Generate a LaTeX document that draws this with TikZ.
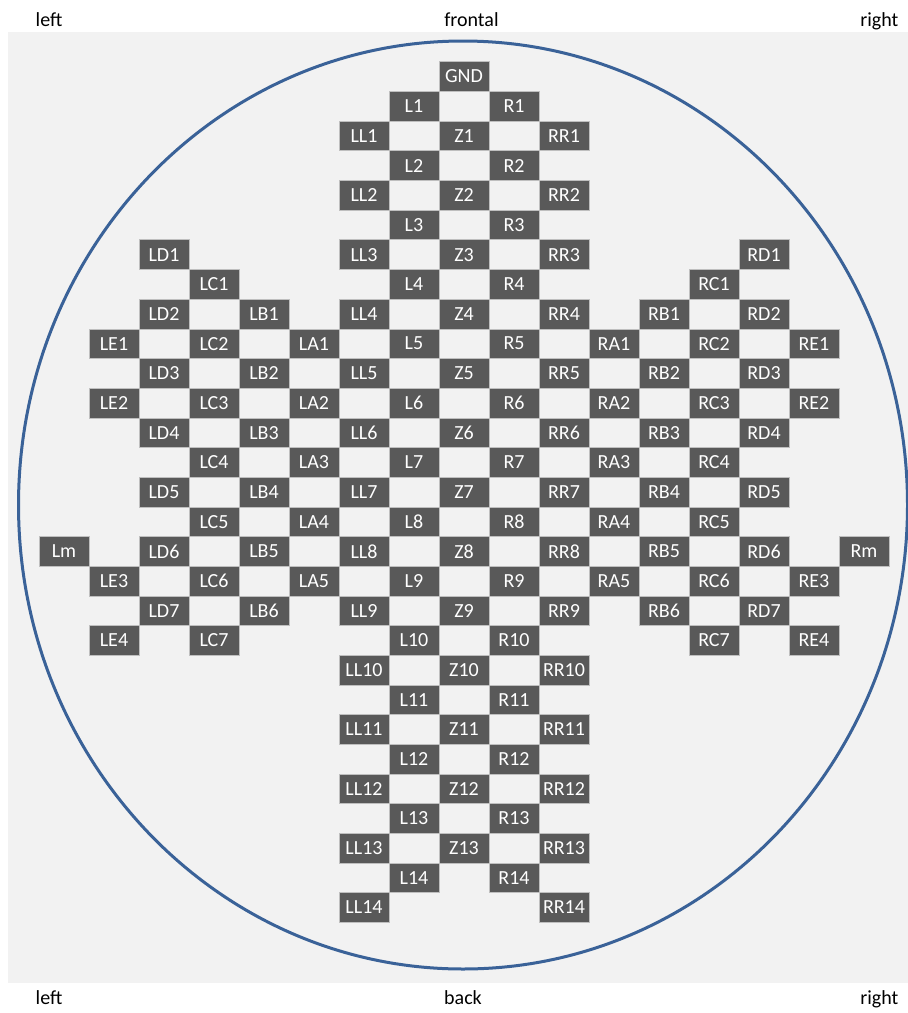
\documentclass[tikz,border=0pt]{standalone}
\usepackage{fontspec}
\setmainfont{Carlito}
\definecolor{CapGray}{HTML}{595959}
\definecolor{CapEdge}{HTML}{BFBFBF}
\definecolor{CapBack}{HTML}{F2F2F2}
\definecolor{CapBlue}{HTML}{3A6298}
\tikzset{
  elec/.style={fill=CapGray,draw=CapEdge,line width=.5pt,text=white,inner sep=0pt,
    minimum width=50pt,minimum height=29.68pt,font=\fontsize{20}{24}\selectfont},
  side/.style={inner sep=0pt,font=\fontsize{20}{24}\selectfont}
}

\begin{document}
\begin{tikzpicture}[x=1pt,y=-1pt]
\useasboundingbox (0,0) rectangle (908,1013);
\fill[CapBack] (8,32) rectangle (908,983);
\draw[CapBlue,line width=3pt] (463,505) ellipse [x radius=444.5pt,y radius=464pt];
% orientation labels
\node[side,anchor=base west] (tl) at (35.5,26) {left};
\node[side,anchor=base] (tf) at (471.5,26) {frontal};
\node[side,anchor=base east] (tr) at (898.5,26) {right};
\node[side,anchor=base west] (bl) at (35.5,1004.5) {left};
\node[side,anchor=base] (bb) at (463,1004.5) {back};
\node[side,anchor=base east] (br) at (898.5,1004.5) {right};
% electrode grid, one unit = one column / one row
\begin{scope}[shift={(464,76.5)},x=50pt,y=-29.68pt]
\node[elec] (GND) at (0,0) {GND};
\foreach \k in {1,...,14}{
  \node[elec] (L\k) at (-1,{2*\k-1}) {L\k};
  \node[elec] (R\k) at (1,{2*\k-1}) {R\k};
  \node[elec] (LL\k) at (-2,{2*\k}) {LL\k};
  \node[elec] (RR\k) at (2,{2*\k}) {RR\k};
}
\foreach \k in {1,...,13} \node[elec] (Z\k) at (0,{2*\k}) {Z\k};
\foreach \k in {1,...,5}{
  \node[elec] (LA\k) at (-3,{2*\k+7}) {LA\k};
  \node[elec] (RA\k) at (3,{2*\k+7}) {RA\k};
}
\foreach \k in {1,...,6}{
  \node[elec] (LB\k) at (-4,{2*\k+6}) {LB\k};
  \node[elec] (RB\k) at (4,{2*\k+6}) {RB\k};
}
\foreach \k in {1,...,7}{
  \node[elec] (LC\k) at (-5,{2*\k+5}) {LC\k};
  \node[elec] (RC\k) at (5,{2*\k+5}) {RC\k};
  \node[elec] (LD\k) at (-6,{2*\k+4}) {LD\k};
  \node[elec] (RD\k) at (6,{2*\k+4}) {RD\k};
}
\foreach \k/\r in {1/9,2/11,3/17,4/19}{
  \node[elec] (LE\k) at (-7,\r) {LE\k};
  \node[elec] (RE\k) at (7,\r) {RE\k};
}
\node[elec] (Lm) at (-8,16) {Lm};
\node[elec] (Rm) at (8,16) {Rm};
\end{scope}
\end{tikzpicture}
\end{document}
